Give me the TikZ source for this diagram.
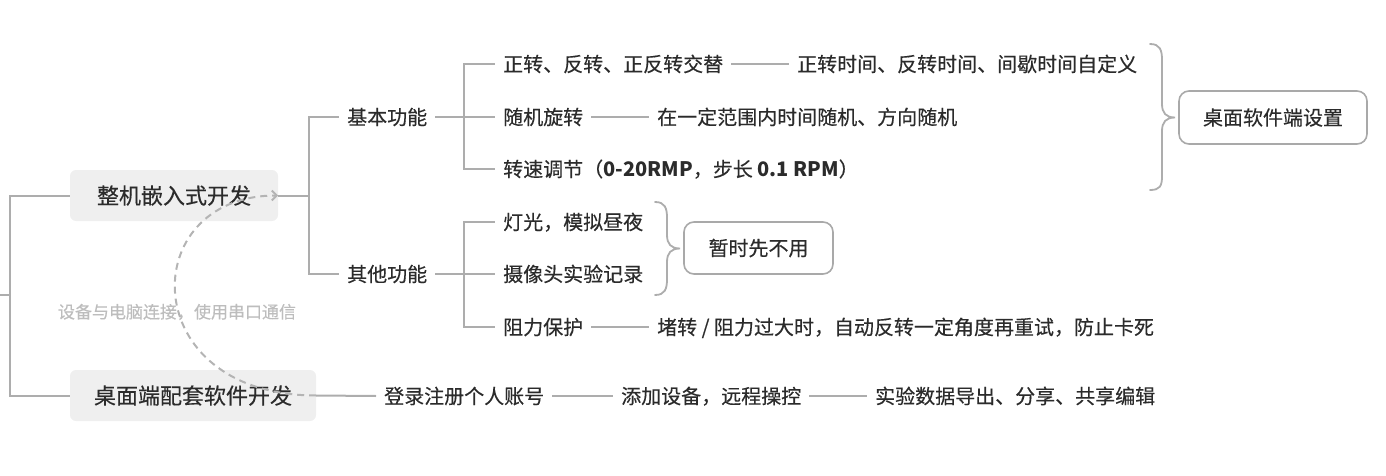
\documentclass[tikz,border=0pt]{standalone}
\usepackage{fontspec}
\setmainfont{Noto Sans CJK SC}[UprightFeatures={FakeBold=0.35}]
\usetikzlibrary{arrows.meta}
\definecolor{lineg}{HTML}{ADADAD}
\definecolor{boxfill}{HTML}{EFEFEF}
\definecolor{txtc}{HTML}{2B2B2B}
\definecolor{relc}{HTML}{B4B4B4}
\definecolor{lblc}{HTML}{BDBDBD}
\definecolor{bordc}{HTML}{A9A9A9}
\begin{document}
\begin{tikzpicture}[x=1pt,y=-1pt,
  conn/.style={draw=lineg, line width=2pt},
  txt/.style={font=\fontsize{20}{24}\selectfont, text=txtc, inner xsep=8pt, inner ysep=0pt,
    text height=17.6pt, text depth=2.4pt, anchor=west},
  mainbox/.style={font=\fontsize{22}{26}\selectfont, text=txtc, fill=boxfill, rounded corners=6pt,
    inner sep=0pt, minimum height=51pt, text height=19.4pt, text depth=2.6pt},
  setbox/.style={font=\fontsize{20}{24}\selectfont, text=txtc, draw=bordc, line width=1.6pt,
    rounded corners=10pt, inner sep=0pt, text height=17.6pt, text depth=2.4pt},
  rel/.style={draw=relc, line width=2pt, dash pattern=on 7pt off 5pt,
    -{Straight Barb[length=5pt,width=10pt]}},
  lbl/.style={font=\fontsize{17}{20}\selectfont, text=lblc, inner sep=1pt},
  brc/.style={draw=lineg, line width=1.8pt, line cap=round}
]
\useasboundingbox (0,0) rectangle (1386,476);

% main nodes
\node[mainbox, minimum width=208pt] (m1) at (174,195.5) {整机嵌入式开发};
\node[mainbox, minimum width=246pt] (m2) at (193,395.5) {桌面端配套软件开发};

% junctions
\coordinate (r) at (0,295);
\coordinate (j0) at (10,295);
\coordinate (j1) at (309,195.5);
\coordinate (s1) at (464,117);
\coordinate (s2) at (464,274);

% level 2
\node[txt] (b1) at (339,117) {基本功能};
\node[txt] (b2) at (339,274) {其他功能};

% level 3
\node[txt] (c11) at (495,64) {正转、反转、正反转交替};
\node[txt] (c11x) at (789,64) {正转时间、反转时间、间歇时间自定义};
\node[txt] (c12) at (495,117) {随机旋转};
\node[txt] (c12x) at (649,117) {在一定范围内时间随机、方向随机};
\node[txt] (c13) at (495,169) {转速调节（\textbf{0-20RMP}，步长 \textbf{0.1 RPM}）};
\node[txt] (c21) at (495,222) {灯光，模拟昼夜};
\node[txt] (c22) at (495,274) {摄像头实验记录};
\node[txt] (c23) at (495,327) {阻力保护};
\node[txt] (c23x) at (649,327) {堵转 / 阻力过大时，自动反转一定角度再重试，防止卡死};

% software branch
\node[txt] (d1) at (376,396) {登录注册个人账号};
\node[txt] (d2) at (613,396) {添加设备，远程操控};
\node[txt] (d3) at (867,396) {实验数据导出、分享、共享编辑};

% summary boxes
\node[setbox, minimum width=188pt, minimum height=53pt] (n1) at (1273,117.5) {桌面软件端设置};
\node[setbox, minimum width=149pt, minimum height=52pt] (n2) at (758.5,248) {暂时先不用};

% connectors
\draw[conn] (r) -- (j0) |- (m1.west);
\draw[conn] (j0) |- (m2.west);
\draw[conn] (m1.east) -- (j1) |- (b1.west);
\draw[conn] (j1) |- (b2.west);
\draw[conn] (b1.east) -- (c12.west);
\draw[conn] (s1) |- (c11.west);
\draw[conn] (s1) |- (c13.west);
\draw[conn] (b2.east) -- (c22.west);
\draw[conn] (s2) |- (c21.west);
\draw[conn] (s2) |- (c23.west);
\draw[conn] (c11.east) -- (c11x.west);
\draw[conn] (c12.east) -- (c12x.west);
\draw[conn] (c23.east) -- (c23x.west);
\draw[conn] (m2.east) -- (d1.west);
\draw[conn] (d1.east) -- (d2.west);
\draw[conn] (d2.east) -- (d3.west);

% braces
\draw[brc] (1150,44) .. controls (1160,44) and (1162,50) .. (1162,60) -- (1162,104)
  .. controls (1162,113) and (1166,117.5) .. (1175,117.5)
  .. controls (1166,117.5) and (1162,122) .. (1162,131) -- (1162,176)
  .. controls (1162,186) and (1160,190) .. (1150,190);
\draw[brc] (655,202) .. controls (665,202) and (667,208) .. (667,218) -- (667,235)
  .. controls (667,244) and (671,248.5) .. (680,248.5)
  .. controls (671,248.5) and (667,253) .. (667,262) -- (667,279)
  .. controls (667,289) and (665,295) .. (655,295);

% relationship
\draw[rel] (m2.east) .. controls (135,395.5) and (135,195.5) .. (m1.east);
\node[lbl] (rl) at (177,312) {设备与电脑连接，使用串口通信};
\end{tikzpicture}
\end{document}
